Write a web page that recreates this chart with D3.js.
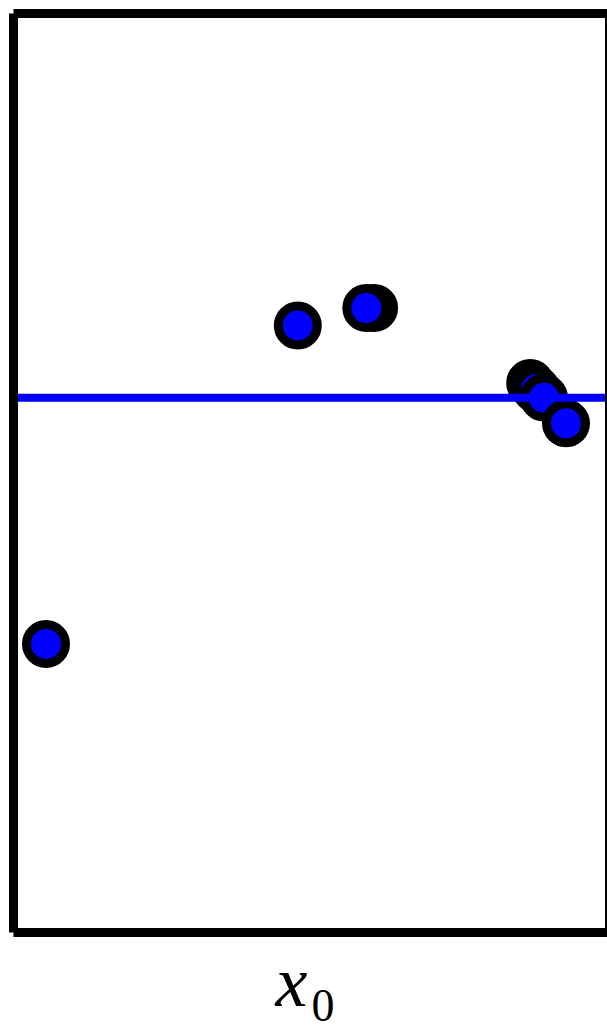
<!DOCTYPE html>
<html><head><meta charset="utf-8">
<script src="https://cdn.jsdelivr.net/npm/d3@7"></script>
<style>html,body{margin:0;padding:0;background:#fff;overflow:hidden}</style>
</head><body><svg id="c" width="607" height="1032"></svg>
<script>
// data (arbitrary units 0..100)
const xValues = [5.45, 47.7, 60.5, 59.2, 86.7, 87.7, 89.0, 92.7];
const yValues = [31.4, 66.05, 67.95, 67.95, 59.8, 59.1, 58.2, 55.4];
const refLineY = [58.2];
const xLabel = "x";
const xLabelSub = "0";

(function () {
const svg = d3.select("#c");
const pLeft = 13.5, pRight = 609.5, pTop = 13.5, pBottom = 932.5;
const x = d3.scaleLinear().domain([0, 100]).range([pLeft, pRight]);
const y = d3.scaleLinear().domain([0, 100]).range([pBottom, pTop]);

const pts = xValues.map((v, i) => ({x: v, y: yValues[i]}));
svg.append("g").selectAll("circle").data(pts).join("circle")
  .attr("cx", d => x(d.x)).attr("cy", d => y(d.y)).attr("r", 19.5)
  .attr("fill", "#0000ff").attr("stroke", "#000").attr("stroke-width", 9);

svg.append("g").selectAll("line").data(refLineY).join("line")
  .attr("x1", x(0) + 4.5).attr("x2", x(100))
  .attr("y1", d => y(d)).attr("y2", d => y(d))
  .attr("stroke", "#0000ff").attr("stroke-width", 8);

// spines
const sw = 9;
const sp = svg.append("g").attr("stroke", "#000").attr("stroke-width", sw).attr("fill", "none");
sp.append("line").attr("x1", pLeft).attr("x2", pRight).attr("y1", pTop).attr("y2", pTop);
sp.append("line").attr("x1", pLeft).attr("x2", pRight).attr("y1", pBottom).attr("y2", pBottom);
sp.append("line").attr("x1", pLeft).attr("x2", pLeft).attr("y1", pTop).attr("y2", pBottom);
sp.append("line").attr("x1", pRight).attr("x2", pRight).attr("y1", pTop).attr("y2", pBottom);

const t = svg.append("text").attr("x", 305).attr("y", 1006)
  .attr("text-anchor", "middle")
  .attr("font-family", "'Liberation Serif', 'DejaVu Serif', serif")
  .attr("fill", "#000");
t.append("tspan").attr("font-style", "italic").attr("font-size", 72).text(xLabel);
t.append("tspan").attr("font-size", 46).attr("dx", 4).attr("dy", 15).text(xLabelSub);
})();
</script></body></html>
